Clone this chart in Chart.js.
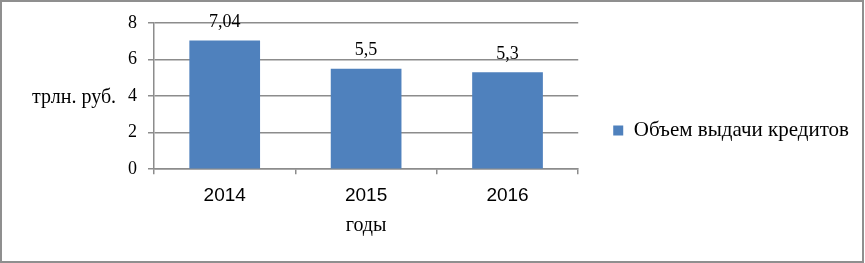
<!DOCTYPE html>
<html>
<head>
<meta charset="utf-8">
<script src="https://cdn.jsdelivr.net/npm/chart.js@4/dist/chart.umd.min.js"></script>
<style>
  html, body { margin: 0; padding: 0; background: #fff; }
  #wrap { width: 865px; height: 263px; }
</style>
</head>
<body>
<div id="wrap"><canvas id="creditChart" width="865" height="263"></canvas></div>
<script>
const years = ['2014', '2015', '2016'];
const creditVolume = [7.04, 5.5, 5.3];
const valueLabels = ['7,04', '5,5', '5,3'];
const yTicks = [0, 2, 4, 6, 8];

const serif = '"Liberation Serif", "Times New Roman", serif';
const sans = '"Liberation Sans", Arial, sans-serif';
const gridColor = '#8c8c8c';

// white background + thin frame round the whole picture
const framePlugin = {
    id: 'frame',
    beforeDraw(chart) {
        const ctx = chart.ctx;
        ctx.save();
        ctx.fillStyle = '#fff';
        ctx.fillRect(0, 0, chart.width, chart.height);
        ctx.strokeStyle = '#8f8f8f';
        ctx.lineWidth = 2;
        ctx.strokeRect(1, 1, chart.width - 3, chart.height - 2);
        ctx.restore();
    }
};

// value labels over bars and the horizontal y title
const labelsPlugin = {
    id: 'valueLabels',
    afterDatasetsDraw(chart) {
        const ctx = chart.ctx;
        const meta = chart.getDatasetMeta(0);
        ctx.save();
        ctx.fillStyle = '#000';
        ctx.font = '18px ' + serif;
        ctx.textAlign = 'center';
        ctx.textBaseline = 'bottom';
        meta.data.forEach((bar, i) => {
            ctx.fillText(valueLabels[i], bar.x, bar.y - 9);
        });
        const area = chart.chartArea;
        ctx.font = '20px ' + serif;
        ctx.textAlign = 'left';
        ctx.textBaseline = 'middle';
        ctx.fillText('трлн. руб.', 32, (area.top + area.bottom) / 2 + 2);
        ctx.restore();
    }
};

function draw() {
    new Chart(document.getElementById('creditChart').getContext('2d'), {
        type: 'bar',
        data: {
            labels: years,
            datasets: [{
                label: 'Объем выдачи кредитов',
                data: creditVolume,
                backgroundColor: '#4f81bd',
                borderWidth: 0,
                categoryPercentage: 0.5,
                barPercentage: 1
            }]
        },
        options: {
            responsive: false,
            animation: false,
            layout: { padding: { top: 23, bottom: 25, left: 0, right: 6 } },
            plugins: {
                tooltip: { enabled: false },
                legend: {
                    position: 'right',
                    maxWidth: 340,
                    labels: {
                        boxWidth: 10,
                        boxHeight: 10,
                        padding: 35,
                        color: '#000',
                        font: { family: serif, size: 21 }
                    }
                }
            },
            scales: {
                x: {
                    grid: { drawOnChartArea: false, drawTicks: true, tickLength: 5, color: gridColor, lineWidth: 1.5 },
                    border: { color: gridColor, width: 1.5 },
                    ticks: { color: '#000', padding: 10, font: { family: sans, size: 19 } },
                    title: {
                        display: true,
                        text: 'годы',
                        color: '#000',
                        padding: { top: -3, bottom: 0 },
                        font: { family: serif, size: 20 }
                    }
                },
                y: {
                    min: 0,
                    max: 8,
                    afterBuildTicks(axis) { axis.ticks = yTicks.map(v => ({ value: v })); },
                    afterFit(axis) { axis.width = 154; },
                    grid: { color: gridColor, lineWidth: 1.5, tickLength: 6 },
                    border: { color: gridColor, width: 1.5 },
                    ticks: { color: '#000', padding: 11, font: { family: serif, size: 18 } }
                }
            }
        },
        plugins: [framePlugin, labelsPlugin]
    });
}

Promise.all([
    document.fonts.load('18px "Liberation Serif"', 'Объем 0123'),
    document.fonts.load('19px "Liberation Sans"', '2014')
]).then(draw, draw);
</script>
</body>
</html>
